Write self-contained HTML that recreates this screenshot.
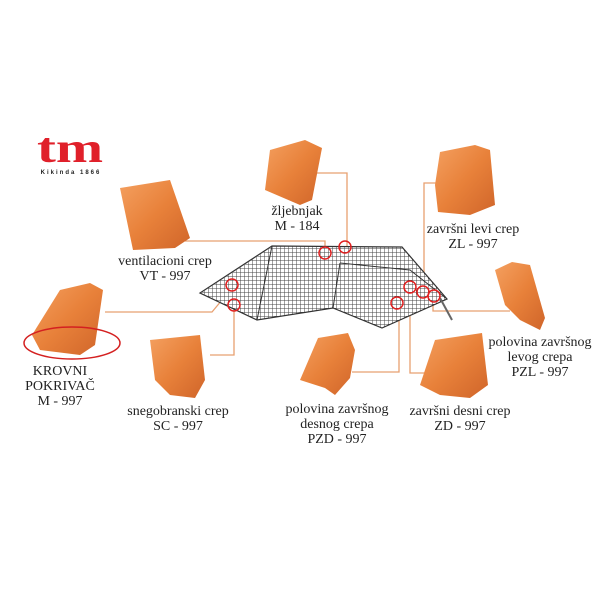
<!DOCTYPE html>
<html><head><meta charset="utf-8"><style>
html,body{margin:0;padding:0;background:#fff;width:600px;height:600px;overflow:hidden}
svg text{font-family:"Liberation Serif",serif;font-size:14px;fill:#222;text-anchor:middle}
</style></head><body>
<svg width="600" height="600" viewBox="0 0 600 600" xmlns="http://www.w3.org/2000/svg">
<defs>
<linearGradient id="t" x1="0" y1="0" x2="1" y2="1"><stop offset="0" stop-color="#f4a060"/><stop offset="0.5" stop-color="#e8813a"/><stop offset="1" stop-color="#d0652a"/></linearGradient>
<pattern id="grid" width="4" height="4" patternUnits="userSpaceOnUse"><rect width="4" height="4" fill="#fff"/><path d="M0 0H4M0 0V4" stroke="#444" stroke-width="1"/></pattern>
</defs>
<!-- logo -->
<text x="70" y="162" transform="translate(70 0) scale(1.35 1) translate(-70 0)" style="font-size:42px;font-weight:bold;fill:#e0202a;font-family:'Liberation Serif',serif">tm</text>
<text x="71" y="174" style="font-size:6px;font-weight:bold;letter-spacing:2px;font-family:'Liberation Sans',sans-serif">Kikinda 1866</text>
<!-- connectors -->
<g stroke="#e8a070" stroke-width="1.3" fill="none">
<path d="M313 173H347V246"/>
<path d="M185 241H325V252"/>
<path d="M440 183H424V290"/>
<path d="M433 300V311H510"/>
<path d="M410 293V373H430"/>
<path d="M399 303V372H352"/>
<path d="M105 312H212L232 288"/>
<path d="M234 306V355H210"/>
</g>
<!-- roof -->
<polygon points="200,293 272,246 402,247 447,299 382,328 333,308 257,320" fill="url(#grid)" stroke="#333" stroke-width="1.2"/>
<polyline points="272,246 257,320" stroke="#333" fill="none"/>
<polyline points="340,263 333,308" stroke="#333" fill="none"/>
<polyline points="340,263 410,270 447,299" stroke="#333" fill="none"/>
<line x1="440" y1="298" x2="452" y2="320" stroke="#666" stroke-width="2"/>
<g stroke="#e02020" stroke-width="1.5" fill="none">
<circle cx="232" cy="285" r="6"/><circle cx="234" cy="305" r="6"/><circle cx="325" cy="253" r="6"/><circle cx="345" cy="247" r="6"/>
<circle cx="397" cy="303" r="6"/><circle cx="410" cy="287" r="6"/><circle cx="423" cy="292" r="6"/><circle cx="434" cy="296" r="6"/>
</g>
<!-- tiles -->
<g fill="url(#t)">
<polygon points="120,188 170,180 190,238 175,248 133,250"/>
<polygon points="270,150 305,140 322,148 312,200 300,205 265,190"/>
<polygon points="440,152 475,145 490,150 495,205 470,215 438,212 435,185"/>
<polygon points="495,270 512,262 530,265 545,318 540,330 520,320 505,305"/>
<polygon points="60,290 90,283 103,290 95,345 80,355 40,350 32,335"/>
<polygon points="150,340 200,335 205,380 195,398 170,395 155,380"/>
<polygon points="318,338 348,333 355,350 350,378 335,395 325,388 300,380"/>
<polygon points="435,340 482,333 488,385 470,398 440,395 420,385"/>
</g>
<ellipse cx="72" cy="343" rx="48" ry="16" fill="none" stroke="#d42020" stroke-width="1.5"/>
<!-- labels -->
<text x="297" y="215">žljebnjak</text><text x="297" y="230">M - 184</text>
<text x="165" y="265">ventilacioni crep</text><text x="165" y="280">VT - 997</text>
<text x="473" y="233">završni levi crep</text><text x="473" y="248">ZL - 997</text>
<text x="540" y="346">polovina završnog</text><text x="540" y="361">levog crepa</text><text x="540" y="376">PZL - 997</text>
<text x="60" y="375">KROVNI</text><text x="60" y="390">POKRIVAČ</text><text x="60" y="405">M - 997</text>
<text x="178" y="415">snegobranski crep</text><text x="178" y="430">SC - 997</text>
<text x="337" y="413">polovina završnog</text><text x="337" y="428">desnog crepa</text><text x="337" y="443">PZD - 997</text>
<text x="460" y="415">završni desni crep</text><text x="460" y="430">ZD - 997</text>
</svg>
</body></html>
